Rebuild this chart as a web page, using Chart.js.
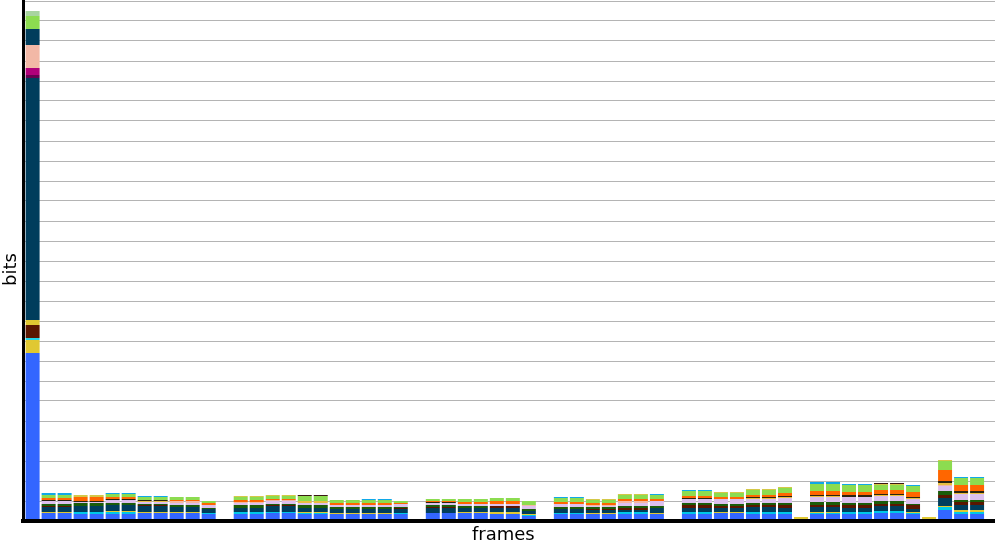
<!DOCTYPE html>
<html>
<head>
<meta charset="utf-8">
<script src="https://cdn.jsdelivr.net/npm/chart.js@4.4.1/dist/chart.umd.min.js"></script>
<style>
  html, body { margin: 0; padding: 0; background: #fff; overflow: hidden; }
</style>
</head>
<body>
<canvas id="chart" width="995" height="541"></canvas>
<script>
// frame numbers (x)
const frames = [
  0, 1, 2, 3, 4, 5, 6, 7, 8, 9, 10, 11, 12, 13, 14, 15, 16, 17, 18, 19,
  20, 21, 22, 23, 24, 25, 26, 27, 28, 29, 30, 31, 32, 33, 34, 35, 36, 37, 38, 39,
  40, 41, 42, 43, 44, 45, 46, 47, 48, 49, 50, 51, 52, 53, 54, 55, 56, 57, 58, 59
];

// bits per syntax element, per frame (bottom to top of the stack)
const blueBits = [168, 8, 8, 7, 7, 7, 7, 8, 8, 8,
  8, 7, 0, 7, 7, 8, 8, 7, 7, 7,
  7, 7, 7, 7, 0, 8, 8, 8, 8, 7,
  7, 5, 0, 7, 7, 7, 7, 7, 7, 7,
  0, 7, 7, 8, 8, 7, 7, 7, 0, 7,
  7, 7, 7, 8, 8, 7, 0, 11, 7, 7];
const cyanBits = [0, 0, 0, 2, 2, 2, 2, 0, 0, 0,
  0, 1, 0, 2, 2, 1, 1, 1, 1, 0,
  0, 0, 0, 1, 0, 0, 0, 0, 0, 0,
  0, 1, 0, 1, 1, 0, 0, 2, 2, 0,
  0, 2, 2, 0, 0, 2, 2, 2, 0, 1,
  1, 2, 2, 2, 2, 1, 0, 3, 2, 2];
const yellowBits = [0, 1, 1, 0, 0, 1, 1, 1, 1, 1,
  1, 0, 0, 0, 0, 0, 0, 1, 1, 1,
  1, 1, 1, 0, 0, 0, 0, 1, 1, 2,
  2, 1, 0, 0, 0, 1, 1, 0, 0, 1,
  0, 0, 0, 1, 1, 0, 0, 0, 4, 1,
  1, 0, 0, 0, 0, 1, 4, 1, 2, 2];
const tealBits = [0, 5, 5, 6, 6, 6, 6, 6, 6, 5,
  5, 4, 0, 4, 4, 6, 6, 4, 4, 4,
  4, 4, 4, 4, 0, 5, 5, 4, 4, 4,
  4, 3, 0, 4, 4, 3, 3, 2, 2, 5,
  0, 4, 4, 4, 4, 5, 5, 4, 0, 5,
  5, 4, 4, 5, 5, 3, 0, 8, 5, 5];
const darkRedBits = [0, 1, 1, 0, 0, 0, 0, 1, 1, 0,
  0, 0, 0, 0, 0, 1, 1, 0, 0, 0,
  0, 0, 0, 1, 0, 1, 1, 0, 0, 2,
  2, 0, 0, 0, 0, 1, 1, 2, 2, 0,
  0, 3, 3, 2, 2, 2, 2, 3, 0, 2,
  2, 3, 3, 2, 2, 4, 0, 3, 3, 3];
const darkGreenBits = [0, 2, 2, 3, 3, 2, 2, 1, 1, 2,
  2, 1, 0, 3, 3, 1, 1, 3, 3, 2,
  2, 2, 2, 1, 0, 2, 2, 2, 2, 0,
  0, 2, 0, 2, 2, 2, 2, 2, 2, 2,
  0, 2, 2, 2, 2, 2, 2, 2, 0, 3,
  3, 2, 2, 3, 3, 1, 0, 4, 2, 2];
const lilacBits = [0, 3, 3, 1, 1, 3, 3, 2, 2, 2,
  2, 3, 0, 2, 2, 3, 3, 2, 2, 2,
  2, 2, 2, 3, 0, 2, 2, 2, 2, 2,
  2, 3, 0, 3, 3, 1, 1, 3, 3, 5,
  0, 4, 4, 5, 5, 4, 4, 5, 0, 5,
  5, 6, 6, 5, 5, 5, 0, 5, 6, 6];
const salmonBits = [0, 0, 0, 0, 0, 0, 0, 0, 0, 2,
  2, 0, 0, 1, 1, 1, 1, 0, 0, 0,
  0, 0, 0, 0, 0, 0, 0, 0, 0, 0,
  0, 1, 0, 0, 0, 1, 1, 2, 2, 0,
  0, 0, 0, 0, 0, 0, 0, 0, 0, 0,
  0, 0, 0, 0, 0, 0, 0, 1, 0, 0];
const goldBits = [0, 0, 0, 0, 0, 0, 0, 1, 1, 0,
  0, 0, 0, 0, 0, 0, 0, 2, 2, 0,
  0, 0, 0, 0, 0, 0, 0, 0, 0, 0,
  0, 0, 0, 0, 0, 0, 0, 0, 0, 0,
  0, 0, 0, 0, 0, 1, 1, 1, 0, 1,
  1, 0, 0, 1, 1, 1, 0, 2, 1, 1];
const blackBits = [0, 1, 1, 1, 1, 1, 1, 1, 1, 0,
  0, 0, 0, 0, 0, 0, 0, 0, 0, 0,
  0, 0, 0, 0, 0, 1, 1, 0, 0, 0,
  0, 0, 0, 0, 0, 0, 0, 0, 0, 0,
  0, 1, 1, 0, 0, 1, 1, 1, 0, 1,
  1, 2, 2, 1, 1, 1, 0, 2, 2, 2];
const orangeBits = [0, 2, 2, 4, 4, 2, 2, 0, 0, 1,
  1, 2, 0, 2, 2, 1, 1, 0, 0, 2,
  2, 2, 2, 1, 0, 1, 1, 2, 2, 3,
  3, 0, 0, 2, 2, 2, 2, 2, 2, 2,
  0, 2, 2, 2, 2, 2, 2, 3, 0, 4,
  4, 3, 3, 4, 4, 5, 0, 11, 6, 6];
const greenBits = [0, 3, 3, 0, 0, 3, 3, 3, 3, 3,
  3, 2, 0, 3, 3, 3, 3, 5, 5, 3,
  3, 3, 3, 2, 0, 2, 2, 3, 3, 3,
  3, 4, 0, 4, 4, 3, 3, 4, 4, 4,
  0, 5, 5, 4, 4, 5, 5, 5, 0, 7,
  7, 7, 7, 5, 5, 6, 0, 9, 7, 7];
const oliveBits = [0, 0, 0, 2, 2, 0, 0, 0, 0, 0,
  0, 0, 0, 1, 1, 1, 1, 0, 0, 0,
  0, 0, 0, 0, 0, 0, 0, 0, 0, 0,
  0, 0, 0, 0, 0, 1, 1, 1, 1, 0,
  0, 0, 0, 1, 1, 1, 1, 1, 0, 0,
  0, 0, 0, 1, 1, 0, 0, 1, 0, 0];
const skyBits = [0, 2, 2, 0, 0, 1, 1, 1, 1, 0,
  0, 0, 0, 0, 0, 0, 0, 0, 0, 0,
  0, 1, 1, 0, 0, 0, 0, 0, 0, 0,
  0, 0, 0, 1, 1, 0, 0, 0, 0, 1,
  0, 1, 1, 0, 0, 0, 0, 0, 0, 2,
  2, 1, 1, 0, 0, 1, 0, 0, 1, 1];
const brownBits = [0, 0, 0, 0, 0, 0, 0, 0, 0, 0,
  0, 0, 0, 0, 0, 0, 0, 1, 1, 0,
  0, 0, 0, 0, 0, 0, 0, 0, 0, 0,
  0, 0, 0, 0, 0, 0, 0, 0, 0, 0,
  0, 0, 0, 0, 0, 0, 0, 0, 0, 0,
  0, 0, 0, 1, 1, 0, 0, 0, 0, 0];

// extra elements that only show up in the key frame (frame 0), bottom to top
const keyFrameBits = [13, 2, 13, 5, 242, 3, 7, 23, 16, 13, 5];
const keyFrameColors = ['#e0c832', '#22d4e8', '#5a1600', '#e0c832', '#003d5c',
  '#660050', '#b0007a', '#f2b8a6', '#003d5c', '#8cdc50', '#a8d4a0'];

const seriesBits = [blueBits, cyanBits, yellowBits, tealBits, darkRedBits, darkGreenBits,
  lilacBits, salmonBits, goldBits, blackBits, orangeBits, greenBits, oliveBits, skyBits, brownBits];
const seriesColors = ['#3366ff', '#00c8e8', '#e0c832', '#003d5c', '#5a1600', '#1a5c0a',
  '#dcc0ee', '#f4b8a4', '#e8c040', '#2a2410', '#ff6600', '#8cdc50', '#d4c848', '#10a8e8', '#3a1a14'];

const datasets = seriesBits.map((d, i) => ({
  data: d,
  backgroundColor: seriesColors[i],
  borderWidth: 0,
  inflateAmount: 0,
  barThickness: 14
}));
keyFrameBits.forEach((v, i) => {
  datasets.push({
    data: frames.map(f => (f === 0 ? v : 0)),
    backgroundColor: keyFrameColors[i],
    borderWidth: 0,
    inflateAmount: 0,
    barThickness: 14
  });
});

const titleFont = { family: 'DejaVu Sans', size: 18, lineHeight: 1 };

new Chart(document.getElementById('chart'), {
  type: 'bar',
  data: { labels: frames, datasets: datasets },
  options: {
    responsive: false,
    animation: false,
    devicePixelRatio: 1,
    layout: { padding: { top: 1, right: 0, left: 0, bottom: 0 } },
    plugins: { legend: { display: false }, tooltip: { enabled: false } },
    scales: {
      x: {
        type: 'linear',
        stacked: true,
        offset: false,
        min: -0.6,
        max: 60.12,
        grid: { display: false, drawTicks: false },
        ticks: { display: false },
        border: { color: '#000', width: 4, z: 1 },
        // trailing spaces nudge the label left, as in the original
        title: { display: true, text: 'frames\u00a0\u00a0', color: '#000', font: titleFont, padding: { top: 5, bottom: -3 } }
      },
      y: {
        stacked: true,
        min: 0,
        max: 520,
        ticks: { display: false, stepSize: 20 },
        grid: { color: '#b4b4b4', lineWidth: 1, drawTicks: false },
        border: { color: '#000', width: 3, z: 1 },
        title: { display: true, text: 'bits\u00a0\u00a0\u00a0', color: '#000', font: titleFont, padding: { top: 2, bottom: 3 } }
      }
    }
  }
});
</script>
</body>
</html>
